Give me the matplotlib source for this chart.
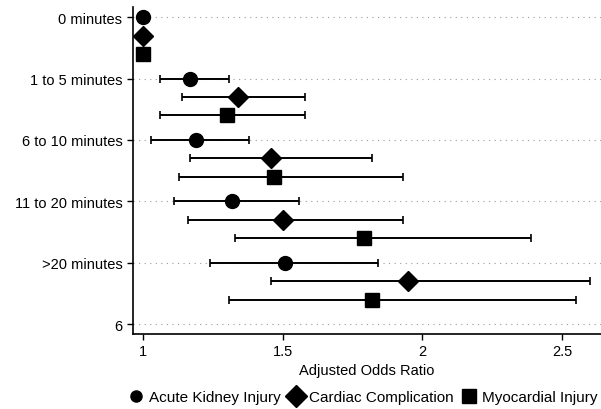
import matplotlib
matplotlib.use("Agg")
import matplotlib.pyplot as plt
from matplotlib.lines import Line2D

plt.rcParams['font.family'] = ['Liberation Sans', 'DejaVu Sans']

# categories (top to bottom)
groups = ["0 minutes", "1 to 5 minutes", "6 to 10 minutes", "11 to 20 minutes", ">20 minutes", "6"]

# odds ratios and 95% CI per outcome (one per group, "6" has no data)
aki_or = [1.0, 1.17, 1.19, 1.32, 1.51]
aki_lo = [1.0, 1.06, 1.03, 1.11, 1.24]
aki_hi = [1.0, 1.31, 1.38, 1.56, 1.84]

cardiac_or = [1.0, 1.34, 1.46, 1.50, 1.95]
cardiac_lo = [1.0, 1.14, 1.17, 1.16, 1.46]
cardiac_hi = [1.0, 1.58, 1.82, 1.93, 2.60]

myo_or = [1.0, 1.30, 1.47, 1.79, 1.82]
myo_lo = [1.0, 1.06, 1.13, 1.33, 1.31]
myo_hi = [1.0, 1.58, 1.93, 2.39, 2.55]

# name, marker, plot size, legend size, offset within group, values
series = [
    ("Acute Kidney Injury", "o", 10, 8, 0.0, aki_or, aki_lo, aki_hi),
    ("Cardiac Complication", "D", 10, 11, 0.3, cardiac_or, cardiac_lo, cardiac_hi),
    ("Myocardial Injury", "s", 10, 9.5, 0.6, myo_or, myo_lo, myo_hi),
]

fig = plt.figure(figsize=(6.01, 4.10), dpi=100)
ax = fig.add_axes([0.221, 0.183, 0.779, 0.797])

# faint dotted guide lines at each group
for i in range(len(groups)):
    ax.axhline(i, color="0.6", lw=0.8, ls=(0, (1, 4)), zorder=0)

for name, mk, ms, _, off, vals, lo, hi in series:
    ys = [i + off for i in range(len(vals))]
    xerr = [[v - l for v, l in zip(vals, lo)], [h - v for v, h in zip(vals, hi)]]
    ax.errorbar(vals, ys, xerr=xerr, fmt=mk, color="black", ms=ms,
                elinewidth=1.4, capsize=3, capthick=1.2, label=name)

ax.set_xlim(0.964, 2.64)
ax.set_ylim(5.16, -0.163)
ax.set_yticks(range(len(groups)))
ax.set_yticklabels(groups, fontsize=10.5)
ax.set_xticks([1, 1.5, 2, 2.5])
ax.set_xticklabels(["1", "1.5", "2", "2.5"], fontsize=10.5)
ax.tick_params(direction="out", length=4, width=1)
ax.set_xlabel("Adjusted Odds Ratio", fontsize=10.5, labelpad=3)
for s in ["top", "right"]:
    ax.spines[s].set_visible(False)
for s in ["left", "bottom"]:
    ax.spines[s].set_linewidth(1.2)

handles = [Line2D([], [], marker=mk, color="black", ls="none", ms=lms)
           for _, mk, _, lms, *_ in series]
fig.legend(handles, [s[0] for s in series], loc="center",
           bbox_to_anchor=(0.602, 0.029), ncol=3, frameon=False, fontsize=11,
           handletextpad=0.25, columnspacing=0.4, handlelength=1.2,
           borderpad=0)

fig.savefig("out.png", dpi=100)
